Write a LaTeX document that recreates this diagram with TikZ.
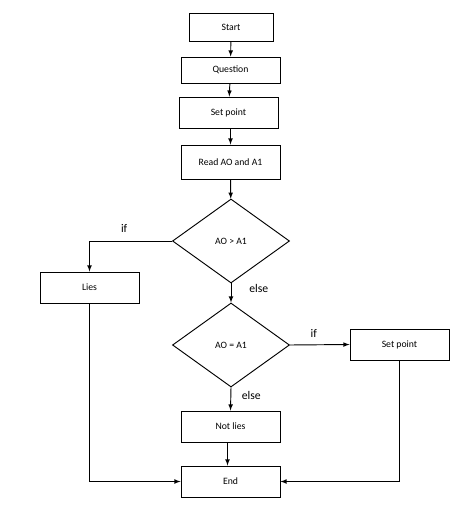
\documentclass[tikz,border=0pt]{standalone}
\usepackage{fontspec}
\setmainfont{Carlito}
\usetikzlibrary{shapes,arrows}
\usetikzlibrary{calc}
\tikzset{
	>=latex,
	block/.style={draw, thick, inner sep=0pt, minimum width=2.97cm, minimum height=0.93cm, font=\fontsize{8.3}{10}\selectfont},
	decision/.style={draw, thick, diamond, inner sep=0pt, minimum width=3.51cm, minimum height=2.52cm, font=\fontsize{8.3}{10}\selectfont},
	lbl/.style={font=\fontsize{10}{12}\selectfont}
}
\begin{document}
\begin{tikzpicture}
			\useasboundingbox (0,0) rectangle (14.19,-15.24);
			\node [block, minimum width=2.52cm, minimum height=0.84cm] (start) at (6.93,-0.81) {Start};
			\node [block, minimum height=0.78cm] (question) at (6.915,-2.1) {Question};
			\node [block] (setpoint) at (6.855,-3.375) {Set point};
			\node [block, minimum height=1.02cm] (read) at (6.915,-4.86) {Read AO and A1};
			\node [decision] (greater) at (6.93,-7.23) {AO > A1};
			\node [block] (lies) at (2.685,-8.625) {Lies};
			\node [decision] (equal) at (6.93,-10.35) {AO = A1};
			\node [block] (setpointb) at (11.985,-10.335) {Set point};
			\node [block] (notlies) at (6.915,-12.795) {Not lies};
			\node [block] (end) at (6.915,-14.445) {End};
			\draw [->, thick] (start) -- (question);
			\draw [->, thick] (question) -- (setpoint);
			\draw [->, thick] (setpoint.south -| read) -- (read);
			\draw [->, thick] (read) -- (greater);
			\draw [->, thick] (greater.west) -| (lies.north) node[lbl, pos=0.29, above=0.12cm] {if};
			\draw [->, thick] (greater.south) -- (equal.north) node[lbl, pos=0.25, right=0.42cm] {else};
			\draw [->, thick] (equal.east) -- (setpointb.west) node[lbl, pos=0.4, above=0.1cm] {if};
			\draw [->, thick] (equal.south) -- (notlies.north) node[lbl, pos=0.33, right=0.2cm] {else};
			\draw [->, thick] ($(notlies.south)+(-0.09,0)$) -- ($(end.north)+(-0.09,0)$);
			\draw [->, thick] (lies.south) |- (end.west);
			\draw [->, thick] (setpointb.south) |- (end.east);
		\end{tikzpicture}
\end{document}
